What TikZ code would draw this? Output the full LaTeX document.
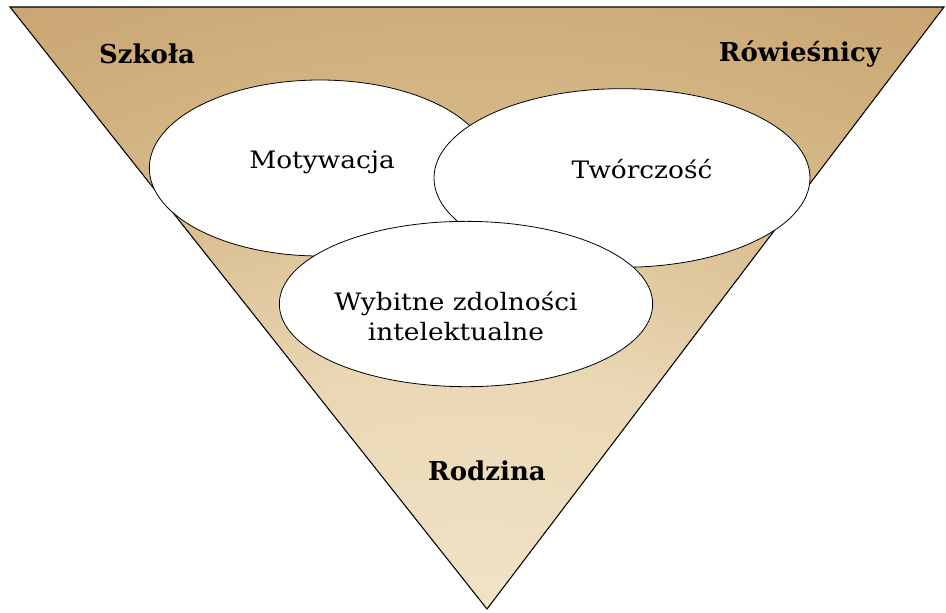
\documentclass[tikz,border=0pt]{standalone}
\usepackage{fontspec}
\setmainfont{DejaVu Serif}
\newfontfamily\ringfont{DejaVu Serif}[FakeStretch=1.1]
\definecolor{funneldark}{RGB}{186,146,94}
\definecolor{funnelbrown}{RGB}{200,164,112}
\definecolor{funneltan}{RGB}{214,184,136}
\definecolor{funnelsand}{RGB}{234,215,180}
\definecolor{funnellight}{RGB}{243,230,204}
\usetikzlibrary{shapes.geometric, positioning}
\pgfdeclareradialshading{funnelglow}{\pgfpoint{0bp}{-30bp}}{color(0bp)=(funnellight); color(18bp)=(funnelsand); color(32bp)=(funneltan); color(46bp)=(funnelbrown); color(62bp)=(funneldark); color(76bp)=(funneldark)}

\begin{document}
\begin{tikzpicture}[x=0.75pt, y=-0.75pt,
  ring/.style={draw=black, line width=0.6pt, fill=white, ellipse, inner sep=0pt},
  ringtext/.style={font=\ringfont\fontsize{18}{22.5}\selectfont, align=center},
  sidetext/.style={font=\fontsize{19.5}{22}\selectfont\bfseries, anchor=base}]
  \useasboundingbox (0,0) rectangle (946,612);

  % the funnel
  \coordinate (tl) at (10,7);
  \coordinate (tr) at (944,7);
  \coordinate (apex) at (487,609);
  \shadedraw[shading=funnelglow, draw=black, line width=0.8pt] (tl) -- (tr) -- (apex) -- cycle;

  % the three ellipses
  \node[ring, minimum width=256pt, minimum height=132pt] (motiv) at (320,168) {};
  \node[ring, minimum width=282pt, minimum height=134pt] (create) at (622,178) {};
  \node[ring, minimum width=280pt, minimum height=124pt] (gift) at (466,304) {};

  % texts in the ellipses
  \node[ringtext, anchor=base] (motivtext) at (322,168) {Motywacja};
  \node[ringtext, anchor=base] (createtext) at (642,178) {Twórczość};
  \node[ringtext] (gifttext) at (456,316) {Wybitne zdolności\\intelektualne};

  % surroundings
  \node[sidetext] (school) at (147,63) {Szkoła};
  \node[sidetext] (peers) at (800,61) {Rówieśnicy};
  \node[sidetext] (family) at (487,480) {Rodzina};
\end{tikzpicture}
\end{document}
